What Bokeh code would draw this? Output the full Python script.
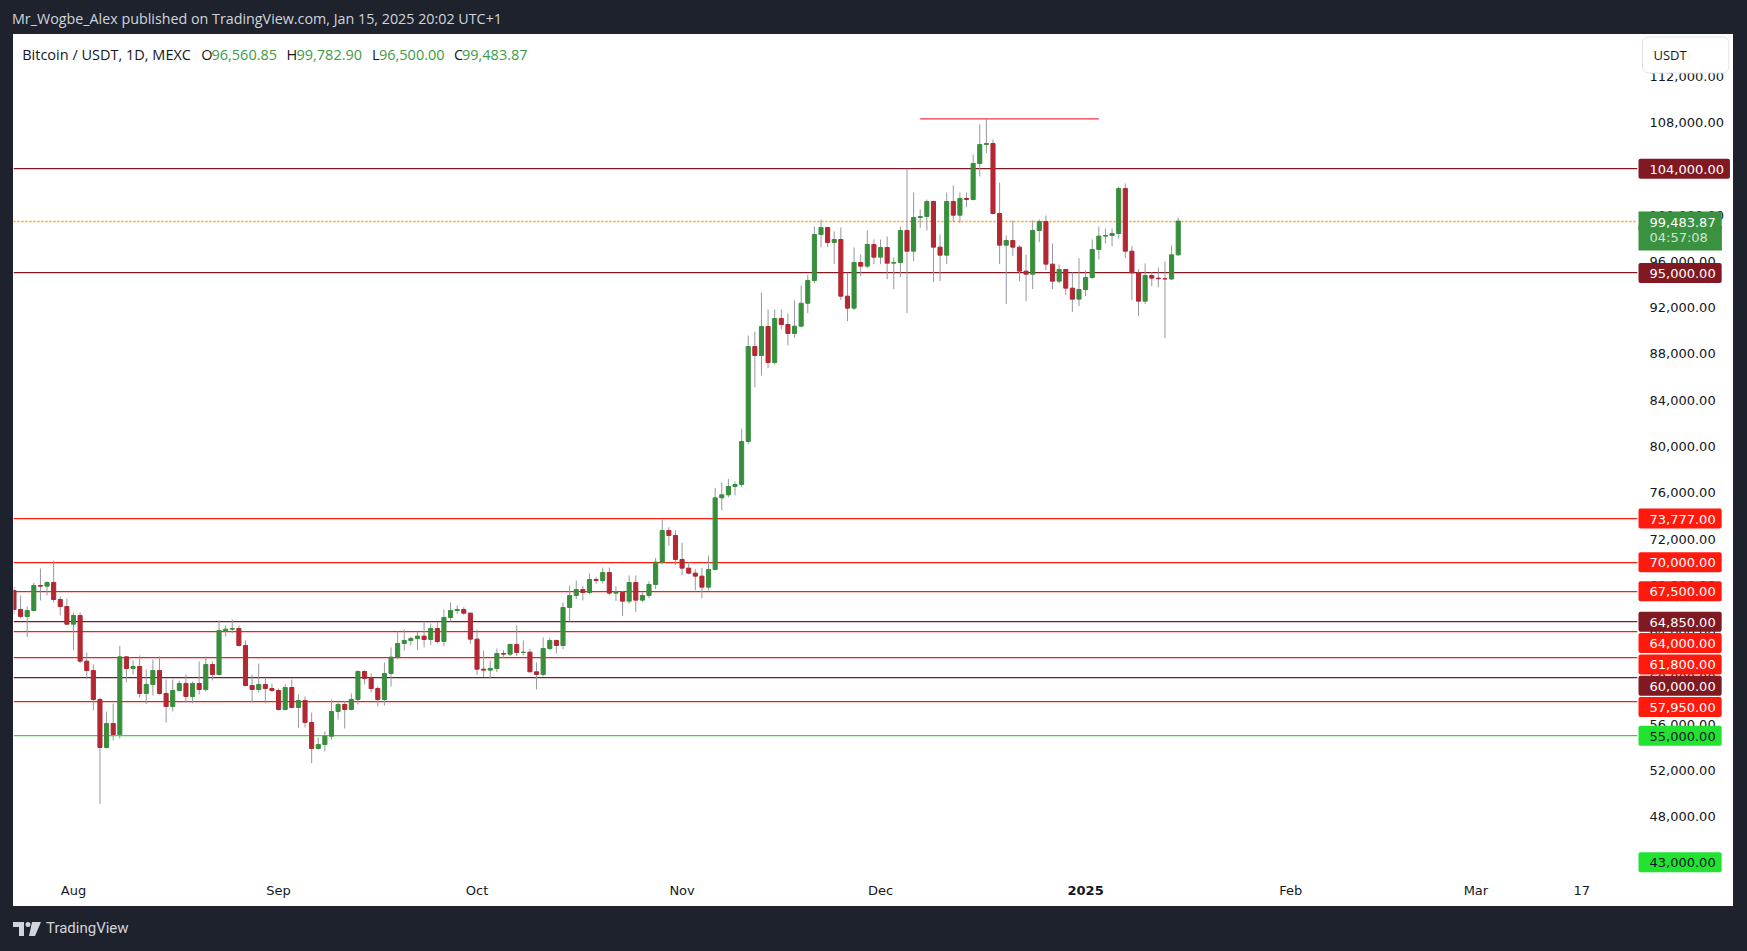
import pandas as pd
from bokeh.plotting import figure
from bokeh.models import Range1d, FixedTicker, NumeralTickFormatter, Label, Div, Spacer, ColumnDataSource
from bokeh.layouts import column, row
from bokeh.core.properties import value
from bokeh.embed import file_html
from bokeh.resources import INLINE

# ------------------------------------------------------------------ data
first_day = "2024-07-23"   # daily candles, Jul 23 2024 .. Jan 15 2025

opens = [
    67556, 65914, 65309, 65828, 67988, 67930, 68247, 66778, 66173,
    64646, 65396, 61449, 60642, 58136, 53988, 56062, 55112, 61823, 60815, 60988, 58655, 59433, 60642, 58655, 57531,
    58914, 59519, 58395, 59519, 59000, 61161, 60296, 64099, 64214, 64272, 62803, 59346, 59000, 59433, 59087,
    58914, 57272, 59173, 57445, 58050, 56149, 53902, 54247, 54967, 57099, 57704, 57272, 58136, 60557, 59951,
    59087, 58136, 60383, 61794, 62976, 63235, 63408, 63610, 63321, 64272, 63148, 65223, 65828, 65915, 65598,
    63351, 60758, 60672, 60816, 62112, 62055, 62890, 62199, 62228, 60528, 60297, 62544, 63236, 62804, 66087,
    67125, 67643, 67384, 68507, 68421, 69112, 67326, 67384, 66635, 68248, 66721, 67125, 68075, 70005, 72742, 72310,
    70236, 69487, 69055, 68795, 67845, 69372, 75565, 75824, 76544, 76717, 80433, 88643, 87865, 90371, 87260,
    91063, 90544, 89767, 90400, 92380, 94347, 98322, 98927, 97631, 97890, 92993, 91956, 95903, 95586, 97458,
    96364, 97199, 95845, 95903, 98668, 96882, 99791, 99878, 101174, 97228, 96536, 101174, 99993, 101434, 101347,
    104458, 106100, 106187, 100137, 97401, 97804, 97228, 95154, 94894, 98668, 99446, 95758, 94289, 95298, 93684, 92734,
    93569, 94606, 97026, 98180, 98236, 98409, 102298, 96882, 95010, 92561, 94779, 94549, 94500, 94480, 96560.85,
]
highs = [
    67847, 67124, 66173, 68219, 69457, 68334, 70149, 67038, 66865,
    65655, 65655, 62198, 61161, 58309, 57099, 57790, 62774, 61850, 61506, 61939, 60729, 61593, 61852, 59864, 59864,
    59778, 60296, 59692, 61420, 61852, 61420, 64963, 64531, 65050, 64531, 63235, 60296, 61247, 60037, 59519,
    59087, 59433, 59864, 58568, 58395, 57013, 54852, 55371, 58136, 58050, 58000, 58655, 60642, 60642, 60383,
    59260, 61334, 62630, 64013, 64185, 63581, 64014, 64877, 64704, 64849, 65914, 66520, 66260, 66116, 65655,
    64186, 62372, 61507, 62544, 62400, 62976, 64532, 63236, 62516, 61334, 63495, 63466, 63322, 66520, 67989,
    68421, 67960, 69026, 68709, 69544, 69544, 67903, 67500, 68853, 68853, 67413, 68334, 70351, 73693, 73030, 72742,
    71705, 70005, 69400, 69516, 70581, 76429, 76890, 77207, 76976, 81528, 89594, 89940, 93310, 91840, 91840,
    91840, 91495, 92619, 93915, 94837, 99014, 99590, 98950, 98582, 98927, 95010, 97200, 96594, 98668, 97890,
    97890, 98150, 96335, 99014, 104000, 101952, 100483, 101347, 101261, 98322, 101952, 102557, 101952, 101952, 105236,
    107829, 108318, 106532, 102816, 98236, 99532, 97400, 96594, 99532, 99619, 99965, 97545, 95730, 95300, 95039, 96277,
    95211, 97890, 99014, 98841, 98841, 102471, 102730, 97314, 95327, 95816, 95067, 95471, 95989, 97372, 99782.90,
]
lows = [
    65511, 65165, 63523, 65741, 66692, 67124, 66519, 65396, 64560,
    62399, 61276, 59893, 57214, 49119, 53900, 54593, 54766, 59605, 60296, 58309, 57733, 58482, 58568, 56149, 57099,
    58827, 57877, 57800, 58568, 58827, 59778, 60200, 63581, 63840, 62700, 59260, 57877, 58741, 57790, 58827,
    57150, 57185, 57400, 55659, 55717, 52634, 53815, 53642, 54679, 56408, 55630, 57200, 57704, 59433, 58741,
    57531, 57618, 59260, 61600, 62371, 62800, 62400, 62630, 62832, 62976, 62746, 64878, 65540, 65450, 62948,
    60268, 60067, 59923, 60499, 61700, 61880, 61882, 61940, 60470, 59001, 60124, 62400, 62112, 62487, 64878,
    66808, 66692, 67240, 68133, 68162, 67125, 66635, 65339, 66400, 65684, 66548, 66900, 67672, 69800, 71446, 69775,
    68882, 68950, 67586, 66894, 67556, 69300, 74500, 75622, 75766, 76500, 80200, 85129, 86137, 86771, 87088,
    90112, 88729, 89421, 90300, 91524, 94117, 97228, 97228, 95758, 92647, 90832, 91800, 94721, 95413, 95758,
    95758, 94462, 93598, 94635, 91524, 96018, 98898, 98668, 94203, 94289, 95758, 99388, 99302, 100685, 101261,
    103335, 105351, 100051, 95758, 92302, 96450, 94289, 92561, 93598, 97660, 95240, 93598, 94117, 93079, 91610, 92129,
    92993, 94462, 96191, 97545, 97314, 97976, 96277, 92647, 91265, 92302, 93857, 93771, 89363, 94376, 96500.00,
]
closes = [
    65914, 65309, 65828, 67988, 67930, 68247, 66778, 66173, 64646,
    65396, 61449, 60642, 58136, 53988, 56062, 55112, 61823, 60815, 60988, 58655, 59433, 60642, 58655, 57531, 58914,
    59519, 58395, 59519, 59000, 61161, 60296, 64099, 64214, 64272, 62803, 59346, 59000, 59433, 59087, 58914,
    57272, 59173, 57445, 58050, 56149, 53902, 54247, 54967, 57099, 57704, 57272, 58136, 60557, 59951, 59087,
    58136, 60383, 61794, 62976, 63235, 63408, 63610, 63321, 64272, 63148, 65223, 65828, 65915, 65598, 63351,
    60758, 60672, 60816, 62112, 62055, 62890, 62199, 62228, 60528, 60297, 62544, 63236, 62804, 66087, 67125,
    67643, 67384, 68507, 68421, 69112, 67326, 67384, 66635, 68248, 66721, 67125, 68075, 70005, 72742, 72310, 70236,
    69487, 69055, 68795, 67845, 69372, 75565, 75824, 76544, 76717, 80433, 88643, 87865, 90371, 87260, 91063,
    90544, 89767, 90400, 92380, 94347, 98322, 98927, 97631, 97890, 92993, 91956, 95903, 95586, 97458, 96364,
    97199, 95845, 95903, 98668, 96882, 99791, 99878, 101174, 97228, 96536, 101174, 99993, 101434, 101347, 104458,
    106100, 106187, 100137, 97401, 97804, 97228, 95154, 94894, 98668, 99446, 95758, 94289, 95298, 93684, 92734, 93569,
    94606, 97026, 98180, 98236, 98409, 102298, 96882, 95010, 92561, 94779, 94549, 94500, 94480, 96560.85, 99483.87,
]

tick_dates = ["2024-08-01", "2024-09-01", "2024-10-01", "2024-11-01", "2024-12-01",
              "2025-01-01", "2025-02-01", "2025-03-01", "2025-03-17"]
tick_labels = ["Aug", "Sep", "Oct", "Nov", "Dec", "2025", "Feb", "Mar", "17"]
bold_tick = "2025"
price_ticks = list(range(44000, 116001, 4000))

level_prices = [104000, 95000, 73777, 70000, 67500, 64850, 64000, 61800, 60000, 57950, 55000, 43000]
level_kinds = ["dark", "dark", "red", "red", "red", "dark", "red", "red", "dark", "red", "green", "green"]

peak_level = 108318
peak_from, peak_to = "2024-12-07", "2025-01-03"
countdown = "04:57:08"
symbol_text = "Bitcoin / USDT, 1D, MEXC"
publisher_text = "Mr_Wogbe_Alex published on TradingView.com, Jan 15, 2025 20:02 UTC+1"

# ------------------------------------------------------------------ geometry / style
ORIGIN = pd.Timestamp("2024-08-01")
X0, X1 = -9.07, 236.43
Y0, Y1 = 43184, 115606
FIG_W, FIG_H = 1720, 872
RIGHT_W, BOTTOM_H = 96, 34
FRAME_W, FRAME_H = FIG_W - RIGHT_W, FIG_H - BOTTOM_H
ppd = FRAME_W / (X1 - X0)
ppu = FRAME_H / (Y1 - Y0)

def to_day(s):
    return (pd.Timestamp(s) - ORIGIN).days

def ys(px_from_top):
    return Y1 - px_from_top / ppu

def xs(px_from_left):
    return X0 + px_from_left / ppd

GREEN, RED, WICK = "#388e3c", "#b22833", "#9598a1"
AX_FONT, UI_FONT = "DejaVu Sans", "Open Sans"
DARK_BG = "#1e222d"
INK = "#131722"

dates = pd.date_range(first_day, periods=len(closes), freq="D")
days = [(d - ORIGIN).days for d in dates]
colors = [GREEN if c >= o else RED for o, c in zip(opens, closes)]
src = ColumnDataSource(dict(
    x=days, h=highs, l=lows,
    top=[max(o, c) for o, c in zip(opens, closes)],
    bottom=[min(o, c) for o, c in zip(opens, closes)],
    col=colors,
))

p = figure(width=FIG_W, height=FIG_H, x_range=Range1d(X0, X1), y_range=Range1d(Y0, Y1),
           y_axis_location="right", output_backend="svg", toolbar_location=None,
           min_border_left=0, min_border_right=RIGHT_W, min_border_top=0, min_border_bottom=BOTTOM_H,
           background_fill_color="white", border_fill_color="white", outline_line_color=None)
p.grid.visible = False

# axes
p.yaxis.ticker = FixedTicker(ticks=price_ticks)
p.yaxis.formatter = NumeralTickFormatter(format="0,0.00")
tick_x = [to_day(d) for d in tick_dates]
p.xaxis.ticker = FixedTicker(ticks=tick_x)
p.xaxis.major_label_overrides = {tx: ("" if lab == bold_tick else lab) for tx, lab in zip(tick_x, tick_labels)}
for ax in list(p.xaxis) + list(p.yaxis):
    ax.axis_line_color = None
    ax.major_tick_line_color = None
    ax.minor_tick_line_color = None
    ax.major_tick_out = 0
    ax.major_tick_in = 0
    ax.minor_tick_out = 0
    ax.minor_tick_in = 0
    ax.major_label_text_font = AX_FONT
    ax.major_label_text_font_size = "13px"
    ax.major_label_text_color = INK
p.yaxis.major_label_standoff = 12
p.xaxis.major_label_standoff = 10

# horizontal levels
kind_line = {"dark": "#801922", "red": "#ff1a0d", "green": "#2ee02e"}
kind_bg = {"dark": "#801922", "red": "#ff1a0d", "green": "#22e232"}
kind_fg = {"dark": "#ffffff", "red": "#ffffff", "green": INK}
p.hspan(y=level_prices, line_color=[kind_line[k] for k in level_kinds], line_width=1.25)
p.segment(x0=[to_day(peak_from)], y0=[peak_level], x1=[to_day(peak_to)], y1=[peak_level],
          line_color="#f23645", line_width=1.25)
last_price = closes[-1]
p.hspan(y=[last_price], line_color="#ff9800", line_width=1.4, line_dash="2 2")

# candles
p.segment(x0="x", y0="l", x1="x", y1="h", source=src, line_color=WICK, line_width=1)
p.vbar(x="x", width=0.62, top="top", bottom="bottom", source=src,
       fill_color="col", line_color="col", line_width=1)

# price-scale labels (stacked like TradingView), drawn over the price scale
PITCH = 21.3
order = sorted(range(len(level_prices)), key=lambda i: -level_prices[i])
lab = dict(x=[], y=[], text=[], bg=[], fg=[])
prev = -1e9
for i in order:
    cy = min((Y1 - level_prices[i]) * ppu, FRAME_H - 10.2)
    if cy < prev + PITCH:
        cy = prev + PITCH
    prev = cy
    k = level_kinds[i]
    lab["x"].append(X1)
    lab["y"].append(ys(cy))
    lab["text"].append(f"{level_prices[i]:,.2f}")
    lab["bg"].append(kind_bg[k])
    lab["fg"].append(kind_fg[k])
p.text(x="x", y="y", text="text", source=ColumnDataSource(lab), x_offset=1,
       text_align="left", text_baseline="middle", text_font=value(AX_FONT), text_font_size="13px",
       text_color="fg", background_fill_color="bg", border_radius=2,
       padding=dict(left=11, right=6, top=6, bottom=5), level="overlay")

# last price + countdown
p.text(x=[X1], y=[last_price], text=[countdown], x_offset=1, y_offset=17,
       text_align="left", text_baseline="middle", text_font=value(AX_FONT), text_font_size="13px",
       text_color="#cfe6d0", background_fill_color="#3a913f",
       padding=dict(left=11, right=14, top=4, bottom=6), level="overlay")
p.text(x=[X1], y=[last_price], text=[f"{last_price:,.2f}"], x_offset=1,
       text_align="left", text_baseline="middle", text_font=value(AX_FONT), text_font_size="13px",
       text_color="#ffffff", background_fill_color="#3a913f",
       padding=dict(left=11, right=6, top=6, bottom=4), level="overlay")

# currency button
p.text(x=[X1], y=[ys(20.5)], text=["USDT"], x_offset=5,
       text_align="left", text_baseline="middle", text_font=value(UI_FONT), text_font_size="13px",
       text_color=INK, background_fill_color="white", border_line_color="#e0e3eb", border_line_width=1,
       border_radius=6, padding=dict(left=11, right=42, top=9, bottom=9), level="overlay")

# bold year tick on the time scale
p.text(x=[to_day(tick_dates[tick_labels.index(bold_tick)])], y=[Y0], y_offset=18, text=[bold_tick],
       text_align="center", text_baseline="middle", text_font=value(AX_FONT), text_font_size="13px",
       text_font_style="bold", text_color=INK, level="overlay")

# legend / OHLC header inside the pane
OHLC_GREEN = "#3e9b43"
pieces = [
    (symbol_text, 8.7, INK),
    ("O", 187.7, INK), (f"{opens[-1]:,.2f}", 198.0, OHLC_GREEN),
    ("H", 273.0, INK), (f"{highs[-1]:,.2f}", 283.0, OHLC_GREEN),
    ("L", 358.5, INK), (f"{lows[-1]:,.2f}", 365.5, OHLC_GREEN),
    ("C", 440.6, INK), (f"{closes[-1]:,.2f}", 448.5, OHLC_GREEN),
]
for txt, px, colr in pieces:
    p.add_layout(Label(x=xs(px), y=ys(20), text=txt, text_font=UI_FONT, text_font_size="14.5px",
                       text_color=colr, text_align="left", text_baseline="middle"))

# ------------------------------------------------------------------ page frame
header = Div(text=publisher_text, width=1747, height=34, margin=0,
             styles={"color": "#d1d4dc", "font-family": "Open Sans", "font-size": "14.3px",
                     "padding-left": "12px", "padding-top": "10px", "line-height": "18px",
                     "box-sizing": "border-box", "background-color": DARK_BG})
logo_svg = ('<svg width="28" height="14" viewBox="0 0 28 14" style="margin-right:5px">'
            '<path d="M0 0H11V14H6V5H0Z" fill="#d1d4dc"/><circle cx="15" cy="2.5" r="2.5" fill="#d1d4dc"/>'
            '<path d="M19 0H28L22 14H16Z" fill="#d1d4dc"/></svg>')
footer = Div(text=f'<div style="display:flex;align-items:center;height:45px;padding-left:13px;'
                  f'font-family:Roboto;font-size:15px;color:#d1d4dc">{logo_svg}TradingView</div>',
             width=1747, height=45, margin=0, styles={"background-color": DARK_BG})
body = row(Spacer(width=13, height=FIG_H, margin=0, styles={"background-color": DARK_BG}),
           p,
           Spacer(width=14, height=FIG_H, margin=0, styles={"background-color": DARK_BG}),
           styles={"background-color": "white"})
page = column(header, body, footer, styles={"background-color": DARK_BG})

open("out.html", "w").write(file_html(page, INLINE))
